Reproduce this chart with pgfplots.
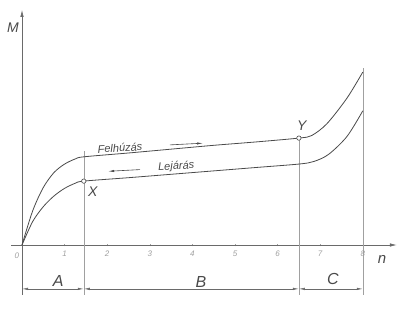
\documentclass[border=0pt]{standalone}
\usepackage{fontspec}
\setmainfont{Liberation Sans}
\usepackage{pgfplots}
\pgfplotsset{compat=1.18}
\usetikzlibrary{arrows.meta}
\definecolor{ink}{HTML}{4A4A4A}
\definecolor{axc}{HTML}{6A6A6A}
\definecolor{guide}{HTML}{A0A0A0}
\begin{document}
\begin{tikzpicture}[x=1pt,y=1pt]
\useasboundingbox (0,0) rectangle (406,308);
\begin{axis}[
  at={(22pt,63pt)}, anchor=origin,
  x=42.6pt, y=42.6pt,
  xmin=-0.25, xmax=8.8, ymin=-1.17, ymax=5.52,
  axis lines=middle,
  axis line style={axc, line width=0.7pt, -{Latex[length=7pt,width=3.5pt]}},
  xtick={1,2,3,4,5,6,7,8}, ytick=\empty,
  /pgf/number format/assume math mode=true,
  major tick length=2.5pt,
  tick style={guide, line width=0.4pt},
  xticklabel style={font=\fontsize{8}{9}\selectfont\itshape, text=guide, yshift=-1pt},
  clip=false,
]
% vertical guide lines
\draw[guide, line width=0.5pt] (axis cs:1.45,2.2) -- (axis cs:1.45,-1.17);
\draw[guide, line width=0.5pt] (axis cs:6.5,2.5) -- (axis cs:6.5,-1.17);
\draw[guide, line width=0.5pt] (axis cs:8,4.15) -- (axis cs:8,-1.17);
% upper curve (Felhuzas)
\addplot[ink, line width=0.8pt, smooth, tension=0.5] coordinates {
 (0,0) (0.25,0.8) (0.5,1.35) (0.75,1.7) (1.0,1.9) (1.25,2.02) (1.45,2.07)
 (2.5,2.16) (3.5,2.25) (4.5,2.34) (5.5,2.42) (6.5,2.51)
 (6.8,2.57) (7.16,2.85) (7.63,3.45) (8,4.06)};
% lower curve (Lejaras)
\addplot[ink, line width=0.8pt, smooth, tension=0.5] coordinates {
 (0,0) (0.25,0.55) (0.5,0.9) (0.75,1.15) (1.0,1.33) (1.25,1.45) (1.45,1.50)
 (2.5,1.58) (3.5,1.66) (4.5,1.74) (5.5,1.82) (6.5,1.90)
 (6.85,1.96) (7.2,2.13) (7.63,2.55) (8,3.15)};
% points X and Y
\addplot[only marks, mark=*, mark size=2.2pt, mark options={fill=white, draw=ink, line width=0.6pt}] coordinates {(1.45,1.50) (6.5,2.51)};
% labels
\node[font=\fontsize{14}{16}\selectfont\itshape, text=ink] at (axis cs:1.66,1.24) {X};
\node[font=\fontsize{14}{16}\selectfont\itshape, text=ink] at (axis cs:6.57,2.80) {Y};
\node[font=\fontsize{14}{16}\selectfont\itshape, text=ink] at (axis cs:-0.21,5.09) {M};
\node[font=\fontsize{15}{16}\selectfont\itshape, text=ink] at (axis cs:8.45,-0.35) {n};
\node[font=\fontsize{8}{9}\selectfont\itshape, text=guide] at (axis cs:-0.12,-0.26) {0};
\node[font=\fontsize{11}{12}\selectfont\itshape, text=ink, rotate=3] at (axis cs:2.3,2.28) {Felhúzás};
\node[font=\fontsize{11}{12}\selectfont\itshape, text=ink, rotate=3] at (axis cs:3.62,1.84) {Lejárás};
\draw[ink, line width=0.6pt, -{Latex[length=6pt,width=2.2pt]}] (axis cs:3.47,2.35) -- (axis cs:4.25,2.39);
\draw[ink, line width=0.6pt, -{Latex[length=6pt,width=2.2pt]}] (axis cs:2.77,1.77) -- (axis cs:2.02,1.73);
% dimension arrows
\draw[axc, line width=0.6pt, {Latex[length=6pt,width=2.5pt]}-{Latex[length=6pt,width=2.5pt]}] (axis cs:0,-1.03) -- (axis cs:1.45,-1.03);
\draw[axc, line width=0.6pt, {Latex[length=6pt,width=2.5pt]}-{Latex[length=6pt,width=2.5pt]}] (axis cs:1.45,-1.03) -- (axis cs:6.5,-1.03);
\draw[axc, line width=0.6pt, {Latex[length=6pt,width=2.5pt]}-{Latex[length=6pt,width=2.5pt]}] (axis cs:6.5,-1.03) -- (axis cs:8,-1.03);
\node[font=\fontsize{16}{18}\selectfont\itshape, text=ink] at (axis cs:0.85,-0.84) {A};
\node[font=\fontsize{16}{18}\selectfont\itshape, text=ink] at (axis cs:4.2,-0.86) {B};
\node[font=\fontsize{16}{18}\selectfont\itshape, text=ink] at (axis cs:7.3,-0.80) {C};
\end{axis}
\end{tikzpicture}
\end{document}
